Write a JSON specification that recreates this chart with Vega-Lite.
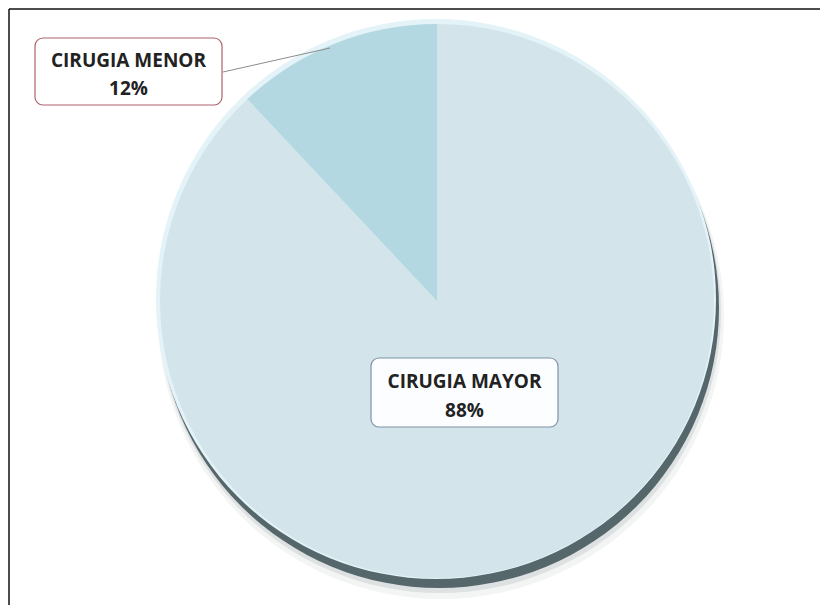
{
  "$schema": "https://vega.github.io/schema/vega-lite/v6.json",
  "width": 820,
  "height": 605,
  "padding": 0,
  "autosize": {"type": "none"},
  "background": "white",
  "config": {"view": {"stroke": null}},
  "data": {"values": [
    {"categoria": "CIRUGIA MAYOR", "valor": 0.88},
    {"categoria": "CIRUGIA MENOR", "valor": 0.12}
  ]},
  "layer": [
    {
      "mark": {"type": "arc", "outerRadius": 283, "theta": 0, "theta2": 6.2832, "color": "#9aa3a6", "opacity": 0.12},
      "transform": [{"filter": "datum.categoria === 'CIRUGIA MAYOR'"}],
      "encoding": {
        "x": {"datum": 441, "type": "quantitative", "scale": {"domain": [0, 820]}, "axis": null},
        "y": {"datum": 316, "type": "quantitative", "scale": {"domain": [0, 605], "reverse": true}, "axis": null}
      }
    },
    {
      "mark": {"type": "arc", "outerRadius": 281, "theta": 0, "theta2": 6.2832, "color": "#8a9599", "opacity": 0.2},
      "transform": [{"filter": "datum.categoria === 'CIRUGIA MAYOR'"}],
      "encoding": {
        "x": {"datum": 440, "type": "quantitative", "scale": {"domain": [0, 820]}, "axis": null},
        "y": {"datum": 312, "type": "quantitative", "scale": {"domain": [0, 605], "reverse": true}, "axis": null}
      }
    },
    {
      "mark": {"type": "arc", "outerRadius": 280, "theta": 0, "theta2": 6.2832, "color": "#56676c"},
      "transform": [{"filter": "datum.categoria === 'CIRUGIA MAYOR'"}],
      "encoding": {
        "x": {"datum": 439, "type": "quantitative", "scale": {"domain": [0, 820]}, "axis": null},
        "y": {"datum": 308, "type": "quantitative", "scale": {"domain": [0, 605], "reverse": true}, "axis": null}
      }
    },
    {
      "mark": {"type": "arc", "outerRadius": 280, "theta": 0, "theta2": 6.2832, "color": "#e3f3f7"},
      "transform": [{"filter": "datum.categoria === 'CIRUGIA MAYOR'"}],
      "encoding": {
        "x": {"datum": 436, "type": "quantitative", "scale": {"domain": [0, 820]}, "axis": null},
        "y": {"datum": 299, "type": "quantitative", "scale": {"domain": [0, 605], "reverse": true}, "axis": null}
      }
    },
    {
      "mark": {"type": "arc", "outerRadius": 277},
      "encoding": {
        "x": {"datum": 437, "type": "quantitative", "scale": {"domain": [0, 820]}, "axis": null},
        "y": {"datum": 301, "type": "quantitative", "scale": {"domain": [0, 605], "reverse": true}, "axis": null},
        "theta": {"field": "valor", "type": "quantitative", "stack": true},
        "color": {"field": "categoria", "type": "nominal", "legend": null,
          "scale": {"domain": ["CIRUGIA MAYOR", "CIRUGIA MENOR"], "range": ["#d3e5eb", "#b3d8e2"]}}
      }
    },
    {
      "mark": {"type": "rule", "color": "#8c8c8c", "strokeWidth": 1},
      "transform": [{"filter": "datum.categoria === 'CIRUGIA MENOR'"}],
      "encoding": {
        "x": {"datum": 223, "type": "quantitative", "scale": {"domain": [0, 820]}, "axis": null},
        "y": {"datum": 72, "type": "quantitative", "scale": {"domain": [0, 605], "reverse": true}, "axis": null},
        "x2": {"datum": 330},
        "y2": {"datum": 48}
      }
    },
    {
      "mark": {"type": "rect", "cornerRadius": 8, "fill": "#ffffff", "stroke": "#b0616f", "strokeWidth": 1.2},
      "transform": [{"filter": "datum.categoria === 'CIRUGIA MENOR'"}],
      "encoding": {
        "x": {"datum": 35, "type": "quantitative", "scale": {"domain": [0, 820]}, "axis": null},
        "x2": {"datum": 222},
        "y": {"datum": 38, "type": "quantitative", "scale": {"domain": [0, 605], "reverse": true}, "axis": null},
        "y2": {"datum": 105}
      }
    },
    {
      "mark": {"type": "rect", "cornerRadius": 8, "fill": "#fbfdfe", "stroke": "#7f93a3", "strokeWidth": 1.2},
      "transform": [{"filter": "datum.categoria === 'CIRUGIA MAYOR'"}],
      "encoding": {
        "x": {"datum": 371, "type": "quantitative", "scale": {"domain": [0, 820]}, "axis": null},
        "x2": {"datum": 558},
        "y": {"datum": 358, "type": "quantitative", "scale": {"domain": [0, 605], "reverse": true}, "axis": null},
        "y2": {"datum": 427}
      }
    },
    {
      "mark": {"type": "text", "font": "Open Sans", "fontWeight": "bold", "fontSize": 19, "color": "#222222", "align": "center", "baseline": "alphabetic"},
      "transform": [{"filter": "datum.categoria === 'CIRUGIA MENOR'"}],
      "encoding": {
        "x": {"datum": 128.5, "type": "quantitative", "scale": {"domain": [0, 820]}, "axis": null},
        "y": {"datum": 67, "type": "quantitative", "scale": {"domain": [0, 605], "reverse": true}, "axis": null},
        "text": {"field": "categoria", "type": "nominal"}
      }
    },
    {
      "mark": {"type": "text", "font": "Open Sans", "fontWeight": "bold", "fontSize": 19, "color": "#222222", "align": "center", "baseline": "alphabetic"},
      "transform": [{"filter": "datum.categoria === 'CIRUGIA MENOR'"}],
      "encoding": {
        "x": {"datum": 128.5, "type": "quantitative", "scale": {"domain": [0, 820]}, "axis": null},
        "y": {"datum": 95, "type": "quantitative", "scale": {"domain": [0, 605], "reverse": true}, "axis": null},
        "text": {"field": "valor", "type": "quantitative", "format": ".0%"}
      }
    },
    {
      "mark": {"type": "text", "font": "Open Sans", "fontWeight": "bold", "fontSize": 19, "color": "#222222", "align": "center", "baseline": "alphabetic"},
      "transform": [{"filter": "datum.categoria === 'CIRUGIA MAYOR'"}],
      "encoding": {
        "x": {"datum": 464.5, "type": "quantitative", "scale": {"domain": [0, 820]}, "axis": null},
        "y": {"datum": 388, "type": "quantitative", "scale": {"domain": [0, 605], "reverse": true}, "axis": null},
        "text": {"field": "categoria", "type": "nominal"}
      }
    },
    {
      "mark": {"type": "text", "font": "Open Sans", "fontWeight": "bold", "fontSize": 19, "color": "#222222", "align": "center", "baseline": "alphabetic"},
      "transform": [{"filter": "datum.categoria === 'CIRUGIA MAYOR'"}],
      "encoding": {
        "x": {"datum": 464.5, "type": "quantitative", "scale": {"domain": [0, 820]}, "axis": null},
        "y": {"datum": 417, "type": "quantitative", "scale": {"domain": [0, 605], "reverse": true}, "axis": null},
        "text": {"field": "valor", "type": "quantitative", "format": ".0%"}
      }
    },
    {
      "mark": {"type": "rule", "color": "#111111", "strokeWidth": 1.5},
      "transform": [{"filter": "datum.categoria === 'CIRUGIA MAYOR'"}],
      "encoding": {
        "x": {"datum": 9, "type": "quantitative", "scale": {"domain": [0, 820]}, "axis": null},
        "x2": {"datum": 820},
        "y": {"datum": 9, "type": "quantitative", "scale": {"domain": [0, 605], "reverse": true}, "axis": null}
      }
    },
    {
      "mark": {"type": "rule", "color": "#111111", "strokeWidth": 1.5},
      "transform": [{"filter": "datum.categoria === 'CIRUGIA MAYOR'"}],
      "encoding": {
        "x": {"datum": 9, "type": "quantitative", "scale": {"domain": [0, 820]}, "axis": null},
        "y": {"datum": 9, "type": "quantitative", "scale": {"domain": [0, 605], "reverse": true}, "axis": null},
        "y2": {"datum": 605}
      }
    }
  ]
}
